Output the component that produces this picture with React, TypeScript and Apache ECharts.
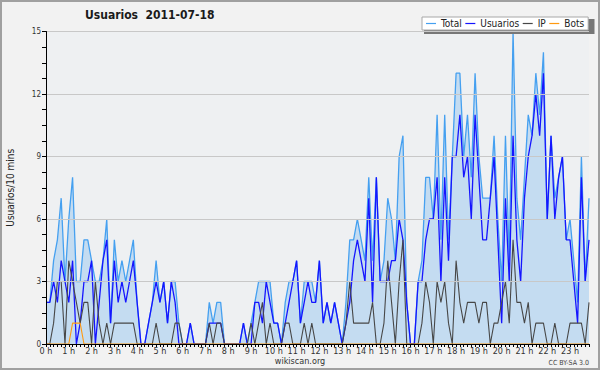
import React, { useEffect, useRef } from 'react';
import * as echarts from 'echarts';

const FONT = "'DejaVu Sans Condensed', 'Liberation Sans', Arial, sans-serif";

const titleText = 'Usuarios  2011-07-18';
const seriesNames = ['Total', 'Usuarios', 'IP', 'Bots'];
const hourLabels = [
  '0 h', '1 h', '2 h', '3 h', '4 h', '5 h', '6 h', '7 h', '8 h', '9 h', '10 h', '11 h',
  '12 h', '13 h', '14 h', '15 h', '16 h', '17 h', '18 h', '19 h', '20 h', '21 h', '22 h', '23 h',
];
const yTickValues = [0, 3, 6, 9, 12, 15];

// one value per 10-minute slot (144 slots)
const total = [
  2, 2, 4, 5, 7, 3, 6, 8, 3, 3,
  5, 5, 4, 3, 3, 4, 6, 1, 5, 3,
  4, 3, 4, 5, 2, 0, 0, 1, 2, 4,
  2, 3, 1, 3, 3, 1, 0, 0, 1, 0,
  0, 0, 0, 2, 1, 2, 2, 0, 0, 0,
  0, 0, 1, 0, 1, 2, 3, 3, 3, 3,
  1, 1, 0, 2, 3, 3, 4, 1, 3, 3,
  3, 2, 4, 1, 2, 1, 2, 1, 0, 2,
  5, 5, 6, 5, 4, 8, 4, 8, 3, 4,
  7, 6, 4, 9, 10, 2, 0, 0, 3, 4,
  8, 8, 6, 11, 5, 11, 5, 9, 13, 13,
  9, 11, 8, 13, 9, 7, 7, 7, 10, 6,
  3, 10, 4, 15, 7, 5, 8, 11, 10, 13,
  11, 14, 6, 10, 7, 8, 9, 5, 6, 4,
  2, 9, 3, 7,
];
const usuarios = [
  2, 2, 3, 2, 4, 3, 2, 4, 0, 1,
  3, 3, 4, 0, 2, 4, 5, 1, 4, 2,
  3, 2, 3, 4, 2, 0, 0, 1, 2, 3,
  2, 3, 1, 3, 2, 0, 0, 0, 1, 0,
  0, 0, 0, 1, 1, 1, 1, 0, 0, 0,
  0, 0, 1, 0, 0, 2, 2, 1, 3, 2,
  1, 1, 0, 1, 2, 3, 4, 1, 2, 3,
  2, 2, 4, 1, 2, 1, 2, 1, 0, 1,
  2, 4, 5, 4, 3, 7, 2, 8, 3, 3,
  3, 4, 4, 6, 5, 2, 0, 0, 3, 3,
  5, 6, 6, 8, 3, 8, 4, 9, 9, 11,
  8, 9, 6, 11, 8, 5, 5, 7, 9, 5,
  1, 7, 3, 10, 5, 3, 7, 9, 10, 12,
  10, 13, 6, 10, 6, 8, 9, 5, 5, 3,
  1, 8, 3, 5,
];
const ip = [
  0, 0, 1, 3, 3, 0, 4, 3, 2, 1,
  2, 2, 0, 3, 1, 0, 1, 0, 1, 1,
  1, 1, 1, 1, 0, 0, 0, 0, 0, 1,
  0, 0, 0, 0, 1, 1, 0, 0, 0, 0,
  0, 0, 0, 1, 0, 1, 1, 0, 0, 0,
  0, 0, 0, 0, 1, 0, 1, 2, 0, 1,
  0, 0, 0, 1, 1, 0, 0, 0, 1, 0,
  1, 0, 0, 0, 0, 0, 0, 0, 0, 1,
  3, 1, 1, 1, 1, 1, 2, 0, 0, 1,
  4, 2, 0, 3, 5, 0, 0, 0, 0, 1,
  3, 2, 0, 3, 2, 3, 1, 0, 4, 2,
  1, 2, 2, 2, 1, 2, 2, 0, 1, 1,
  2, 3, 1, 5, 2, 2, 1, 2, 0, 1,
  1, 1, 0, 0, 1, 0, 0, 0, 1, 1,
  1, 1, 0, 2,
];
const bots = [
  0, 0, 0, 0, 0, 0, 0, 1, 1, 1,
  0, 0, 0, 0, 0, 0, 0, 0, 0, 0,
  0, 0, 0, 0, 0, 0, 0, 0, 0, 0,
  0, 0, 0, 0, 0, 0, 0, 0, 0, 0,
  0, 0, 0, 0, 0, 0, 0, 0, 0, 0,
  0, 0, 0, 0, 0, 0, 0, 0, 0, 0,
  0, 0, 0, 0, 0, 0, 0, 0, 0, 0,
  0, 0, 0, 0, 0, 0, 0, 0, 0, 0,
  0, 0, 0, 0, 0, 0, 0, 0, 0, 0,
  0, 0, 0, 0, 0, 0, 0, 0, 0, 0,
  0, 0, 0, 0, 0, 0, 0, 0, 0, 0,
  0, 0, 0, 0, 0, 0, 0, 0, 0, 0,
  0, 0, 0, 0, 0, 0, 0, 0, 0, 0,
  0, 0, 0, 0, 0, 0, 0, 0, 0, 0,
  0, 0, 0, 0,
];

const SLOTS_PER_HOUR = 6;
const categories: string[] = [];
for (let i = 0; i < total.length; i++) {
  categories.push(i % SLOTS_PER_HOUR === 0 ? hourLabels[i / SLOTS_PER_HOUR] : '');
}

const COLORS: Record<string, string> = {
  Total: '#45a0f0',
  Usuarios: '#1515ff',
  IP: '#474747',
  Bots: '#ff9a10',
};

export default function App() {
  const ref = useRef<HTMLDivElement>(null);

  useEffect(() => {
    document.body.style.margin = '0';
    if (!ref.current) return;
    const chart = echarts.init(ref.current, undefined, { renderer: 'svg' });
    const lineBase = { type: 'line', showSymbol: false, symbol: 'none', animation: false };
    chart.setOption({
      animation: false,
      backgroundColor: '#f2f2f2',
      textStyle: { fontFamily: FONT },
      title: {
        text: titleText,
        left: 85,
        top: 9,
        padding: 0,
        textStyle: { fontSize: 12, fontWeight: 'bold', color: '#1a1a1a', fontFamily: FONT },
      },
      legend: {
        data: seriesNames.map((n) => ({
          name: n,
          icon: 'rect',
          itemStyle: { color: COLORS[n], borderWidth: 0 },
        })),
        left: 422,
        top: 17,
        padding: [1.5, 4, 1.5, 4],
        itemGap: 3.5,
        itemWidth: 10,
        itemHeight: 1.2,
        icon: 'rect',
        itemStyle: { borderWidth: 0 },
        backgroundColor: '#ffffff',
        borderColor: '#a8a8a8',
        borderWidth: 1,
        borderRadius: 0,
        z: 6,
        textStyle: { fontSize: 10, color: '#222', fontFamily: FONT },
      },
      grid: {
        left: 46,
        right: 11,
        top: 31.5,
        bottom: 26,
        outerBoundsMode: 'none',
        containLabel: false,
        show: true,
        backgroundColor: '#eef0f2',
        borderWidth: 0,
      },
      xAxis: {
        type: 'category',
        data: categories,
        boundaryGap: false,
        z: 10,
        axisLine: { show: true, lineStyle: { color: '#000', width: 1 } },
        axisTick: { show: true, interval: 0, length: 3, lineStyle: { color: '#000' } },
        axisLabel: {
          interval: (i: number) => i % SLOTS_PER_HOUR === 0,
          fontSize: 9,
          color: '#333',
          margin: 2,
          fontFamily: FONT,
        },
        splitLine: { show: false },
      },
      yAxis: {
        type: 'value',
        min: yTickValues[0],
        max: yTickValues[yTickValues.length - 1],
        interval: yTickValues[1] - yTickValues[0],
        z: 10,
        name: 'Usuarios/10 mins',
        nameLocation: 'middle',
        nameRotate: 90,
        nameGap: 31,
        nameTextStyle: { fontSize: 10, color: '#222', fontFamily: FONT },
        axisLine: { show: true, lineStyle: { color: '#000', width: 1 } },
        axisTick: { show: true, length: 4, lineStyle: { color: '#000' } },
        minorTick: { show: true, splitNumber: 4, length: 4, lineStyle: { color: '#000' } },
        axisLabel: { fontSize: 8, color: '#333', margin: 5, fontFamily: FONT },
        splitLine: { show: true, lineStyle: { color: '#c8c8c8', width: 1 } },
      },
      series: [
        {
          ...lineBase,
          name: 'Total',
          data: total,
          lineStyle: { color: COLORS.Total, width: 1.3 },
          itemStyle: { color: COLORS.Total },
          areaStyle: { color: '#c4dcf1', opacity: 1 },
          z: 2,
        },
        {
          ...lineBase,
          name: 'Usuarios',
          data: usuarios,
          lineStyle: { color: COLORS.Usuarios, width: 1.3 },
          itemStyle: { color: COLORS.Usuarios },
          z: 3,
        },
        {
          ...lineBase,
          name: 'IP',
          data: ip,
          lineStyle: { color: COLORS.IP, width: 1.1 },
          itemStyle: { color: COLORS.IP },
          z: 4,
        },
        {
          ...lineBase,
          name: 'Bots',
          data: bots,
          lineStyle: { color: COLORS.Bots, width: 1.1 },
          itemStyle: { color: COLORS.Bots },
          z: 5,
        },
      ],
      graphic: [
        {
          type: 'rect',
          z: 1,
          shape: { x: 1, y: 1, width: 598, height: 368 },
          style: { fill: 'none', stroke: '#a0a0a0', lineWidth: 2 },
          silent: true,
        },
        {
          type: 'rect',
          z: 5,
          shape: { x: 424, y: 19, width: 170.5, height: 15 },
          style: { fill: '#777777' },
          silent: true,
        },
        {
          type: 'text',
          z: 5,
          x: 300,
          y: 361,
          style: {
            text: 'wikiscan.org',
            fontSize: 9,
            fontFamily: FONT,
            fill: '#333',
            align: 'center',
            verticalAlign: 'middle',
          },
        },
        {
          type: 'text',
          z: 5,
          x: 589,
          y: 363,
          style: {
            text: 'CC BY-SA 3.0',
            fontSize: 7,
            fontFamily: FONT,
            fill: '#444',
            align: 'right',
            verticalAlign: 'middle',
          },
        },
      ],
    });
    return () => chart.dispose();
  }, []);

  return (
    <div
      ref={ref}
      style={{ width: 600, height: 370, position: 'fixed', left: 0, top: 0 }}
    />
  );
}
